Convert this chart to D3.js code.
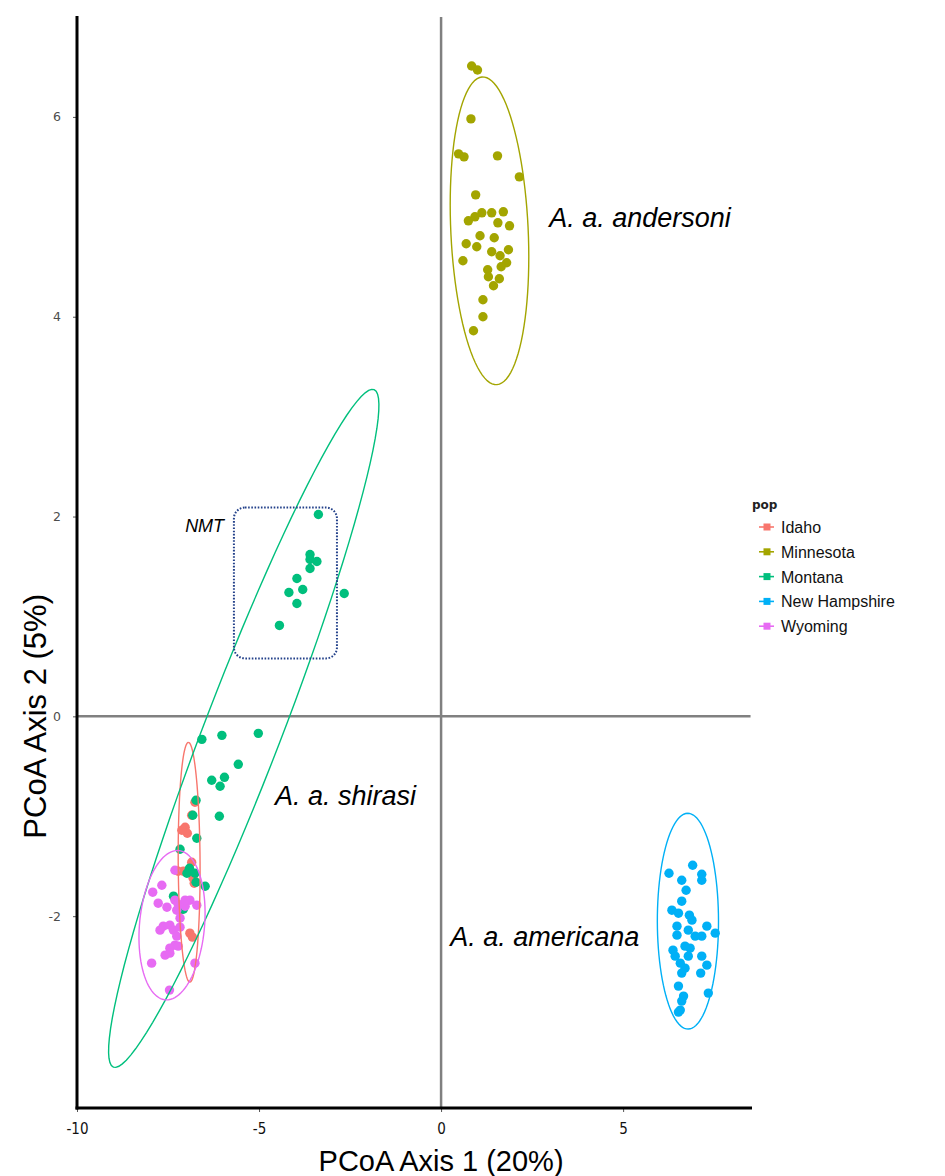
<!DOCTYPE html>
<html>
<head>
<meta charset="utf-8">
<script src="https://cdn.jsdelivr.net/npm/d3@7"></script>
<style>
  body { margin: 0; background: #fff; }
  svg { display: block; }
</style>
</head>
<body>
<div id="chart"></div>
<script>
// populations and ggplot default hues
const pops = ["Idaho", "Minnesota", "Montana", "New Hampshire", "Wyoming"];
const popColors = ["#F8766D", "#A3A500", "#00BF7D", "#00B0F6", "#E76BF3"];

// PCoA scores [axis1, axis2]
const idaho = [[-6.76,-0.86],[-6.85,-0.99],[-7.03,-1.11],[-6.97,-1.17],[-7.12,-1.14],[-6.85,-1.46],
  [-7.22,-1.55],[-7.08,-1.55],[-6.78,-1.67],[-6.90,-2.17],[-6.83,-2.21],[-7.17,-1.94],[-6.81,-1.62]];
const minnesota = [[0.84,6.51],[1.00,6.47],[0.82,5.98],[0.48,5.63],[0.63,5.60],[1.55,5.61],[2.15,5.40],
  [0.95,5.22],[1.12,5.04],[1.39,5.04],[1.71,5.05],[0.75,4.96],[0.93,5.00],[1.56,4.94],[1.88,4.91],
  [1.07,4.81],[1.46,4.79],[0.69,4.73],[0.98,4.70],[1.39,4.65],[1.85,4.67],[1.62,4.61],[0.60,4.56],
  [1.80,4.54],[1.65,4.50],[1.28,4.47],[1.30,4.40],[1.60,4.38],[1.44,4.31],[1.15,4.17],[1.15,4.00],[0.89,3.86]];
const montana = [[-3.37,2.02],[-3.60,1.62],[-3.60,1.57],[-3.41,1.55],[-3.60,1.48],[-3.96,1.38],[-3.80,1.27],
  [-4.18,1.24],[-3.96,1.13],[-2.66,1.23],[-4.44,0.91],
  [-6.57,-0.23],[-6.02,-0.19],[-5.02,-0.17],[-5.57,-0.48],[-6.30,-0.64],[-5.95,-0.61],[-6.07,-0.70],
  [-6.73,-0.84],[-6.82,-0.99],[-6.09,-1.00],[-6.71,-1.22],[-7.17,-1.33],[-6.91,-1.52],[-6.98,-1.57],
  [-6.76,-1.57],[-6.73,-1.66],[-6.48,-1.70],[-7.35,-1.80],[-7.08,-1.93]];
const newHampshire = [[6.26,-1.57],[6.91,-1.49],[7.16,-1.58],[7.16,-1.64],[6.61,-1.64],[6.73,-1.74],
  [6.61,-1.85],[6.34,-1.94],[6.52,-1.97],[6.82,-1.99],[6.89,-2.04],[6.48,-2.10],[7.30,-2.10],[7.53,-2.17],
  [6.79,-2.14],[6.48,-2.19],[6.98,-2.20],[7.16,-2.20],[6.70,-2.30],[6.37,-2.34],[6.84,-2.32],[6.43,-2.40],
  [7.16,-2.40],[6.57,-2.47],[7.30,-2.49],[6.70,-2.52],[6.61,-2.57],[7.13,-2.57],[6.79,-2.40],[6.52,-2.70],
  [7.34,-2.77],[6.66,-2.80],[6.61,-2.85],[6.57,-2.94],[6.52,-2.96]];
const wyoming = [[-7.31,-1.54],[-7.67,-1.69],[-7.92,-1.76],[-7.77,-1.87],[-7.31,-1.84],[-7.22,-1.88],
  [-6.90,-1.84],[-6.71,-1.89],[-7.03,-1.90],[-7.26,-1.94],[-7.17,-2.02],[-7.63,-2.10],[-7.45,-2.09],
  [-7.72,-2.14],[-7.35,-2.14],[-7.17,-2.11],[-7.26,-2.20],[-7.31,-2.29],[-7.45,-2.32],[-7.22,-2.30],
  [-7.58,-2.39],[-7.45,-2.37],[-7.95,-2.47],[-6.76,-2.47],[-7.46,-2.74],[-7.03,-1.84],[-7.53,-1.91]];
const scores = [idaho, minnesota, montana, newHampshire, wyoming];

// 95% ellipses: centre, semi-axes and rotation (degrees) in PCoA units
const ellipseCx = [-6.92, 1.33, -5.42, 6.78, -7.39];
const ellipseCy = [-1.46, 4.86, -0.12, -2.05, -2.09];
const ellipseA = [1.20, 1.56, 4.97, 1.08, 0.93];
const ellipseB = [0.30, 1.05, 0.775, 0.84, 0.72];
const ellipseAngle = [91, 102.5, 42.3, 90.5, 20];

// annotations
const subspecies = ["A. a. andersoni", "A. a. shirasi", "A. a. americana"];
const subspeciesAt = [[2.97, 4.90], [-4.56, -0.89], [0.25, -2.30]];
const nmtBox = { x0: -5.69, x1: -2.86, y0: 0.58, y1: 2.09 };

const xTicks = [-10, -5, 0, 5];
const yTicks = [-2, 0, 2, 4, 6];

const W = 945, H = 1176;
const svg = d3.select("#chart").append("svg")
  .attr("width", W)
  .attr("height", H);

const x = d3.scaleLinear().domain([-10, 8.54]).range([77, 752]);
const y = d3.scaleLinear().domain([-3.92, 7.01]).range([1108, 16]);
const color = d3.scaleOrdinal().domain(pops).range(popColors);

// zero lines
svg.append("line")
  .attr("x1", x(-10)).attr("x2", x(8.5))
  .attr("y1", y(0)).attr("y2", y(0))
  .attr("stroke", "#808080").attr("stroke-width", 2.5);
svg.append("line")
  .attr("x1", x(0)).attr("x2", x(0))
  .attr("y1", y(7.0)).attr("y2", y(-3.92))
  .attr("stroke", "#808080").attr("stroke-width", 2.5);

// points
pops.forEach((p, i) => {
  svg.append("g")
    .selectAll("circle")
    .data(scores[i])
    .join("circle")
    .attr("cx", d => x(d[0]))
    .attr("cy", d => y(d[1]))
    .attr("r", 4.7)
    .attr("fill", color(p));
});

// ellipses
const line = d3.line().x(d => x(d[0])).y(d => y(d[1]));
pops.forEach((p, i) => {
  const th = ellipseAngle[i] * Math.PI / 180;
  const pts = d3.range(0, 101).map(k => {
    const t = 2 * Math.PI * k / 100;
    const u = ellipseA[i] * Math.cos(t), v = ellipseB[i] * Math.sin(t);
    return [ellipseCx[i] + u * Math.cos(th) - v * Math.sin(th),
            ellipseCy[i] + u * Math.sin(th) + v * Math.cos(th)];
  });
  svg.append("path")
    .attr("d", line(pts))
    .attr("fill", "none")
    .attr("stroke", color(p))
    .attr("stroke-width", 1.4);
});

// axes (black lines, small ticks)
const xAxis = svg.append("g").attr("transform", `translate(0,${y(-3.92)})`)
  .call(d3.axisBottom(x).tickValues(xTicks).tickSize(4).tickFormat(d => String(d)));
xAxis.select(".domain").remove();
xAxis.selectAll(".tick line").attr("stroke", "#555");
xAxis.selectAll("text")
  .attr("dy", "1.25em")
  .style("font-family", "'Liberation Sans Narrow', 'DejaVu Sans Condensed', sans-serif")
  .style("font-size", "15px").attr("fill", "#111");

const yAxis = svg.append("g").attr("transform", `translate(${x(-10)},0)`)
  .call(d3.axisLeft(y).tickValues(yTicks).tickSize(4).tickFormat(d => String(d)));
yAxis.select(".domain").remove();
yAxis.selectAll(".tick line").attr("stroke", "#555");
yAxis.selectAll("text")
  .attr("x", -16)
  .style("font-family", "'DejaVu Sans', sans-serif")
  .style("font-size", "12.5px").attr("fill", "#4d4d4d");

svg.append("line")
  .attr("x1", x(-10)).attr("x2", x(-10))
  .attr("y1", y(7.01)).attr("y2", y(-3.92) + 1.5)
  .attr("stroke", "#000").attr("stroke-width", 3);
svg.append("line")
  .attr("x1", x(-10) - 1.5).attr("x2", x(8.54))
  .attr("y1", y(-3.92)).attr("y2", y(-3.92))
  .attr("stroke", "#000").attr("stroke-width", 3);

// axis titles
svg.append("text")
  .attr("x", x(0)).attr("y", 1171)
  .attr("text-anchor", "middle")
  .style("font-family", "'Liberation Sans', Arial, sans-serif")
  .style("font-size", "29px")
  .text("PCoA Axis 1 (20%)");
svg.append("text")
  .attr("transform", `translate(46,${y(0)}) rotate(-90)`)
  .attr("text-anchor", "middle")
  .style("font-family", "'Liberation Sans', Arial, sans-serif")
  .style("font-size", "31px")
  .text("PCoA Axis 2 (5%)");

// subspecies labels
svg.selectAll(".ssp")
  .data(subspecies)
  .join("text")
  .attr("class", "ssp")
  .attr("x", (d, i) => x(subspeciesAt[i][0]))
  .attr("y", (d, i) => y(subspeciesAt[i][1]))
  .style("font-family", "'Liberation Sans', Arial, sans-serif")
  .style("font-style", "italic")
  .style("font-size", "27px")
  .text(d => d);

// NMT box
svg.append("rect")
  .attr("x", x(nmtBox.x0)).attr("y", y(nmtBox.y1))
  .attr("width", x(nmtBox.x1) - x(nmtBox.x0))
  .attr("height", y(nmtBox.y0) - y(nmtBox.y1))
  .attr("rx", 11)
  .attr("fill", "none")
  .attr("stroke", "#23418a")
  .attr("stroke-width", 2)
  .attr("stroke-dasharray", "1.6,1.6");
svg.append("text")
  .attr("x", x(-7.03)).attr("y", y(1.85))
  .style("font-family", "'Liberation Sans', Arial, sans-serif")
  .style("font-style", "italic")
  .style("font-size", "18px")
  .text("NMT");

// legend
const legend = svg.append("g").attr("transform", "translate(752,505)");
legend.append("text")
  .attr("x", 0).attr("y", 4)
  .style("font-family", "'DejaVu Sans', sans-serif")
  .style("font-size", "12px").style("font-weight", "bold")
  .attr("fill", "#222")
  .text("pop");
const item = legend.selectAll(".item")
  .data(pops)
  .join("g")
  .attr("class", "item")
  .attr("transform", (d, i) => `translate(0,${22 + i * 24.8})`);
item.append("line")
  .attr("x1", 7).attr("x2", 22)
  .attr("stroke", d => color(d)).attr("stroke-width", 1.6);
item.append("rect")
  .attr("x", 11.5).attr("y", -3.5).attr("width", 7).attr("height", 7)
  .attr("fill", d => color(d));
item.append("text")
  .attr("x", 29).attr("y", 6)
  .style("font-family", "'Liberation Sans', Arial, sans-serif")
  .style("font-size", "16px")
  .attr("fill", "#111")
  .text(d => d);
</script>
</body>
</html>
